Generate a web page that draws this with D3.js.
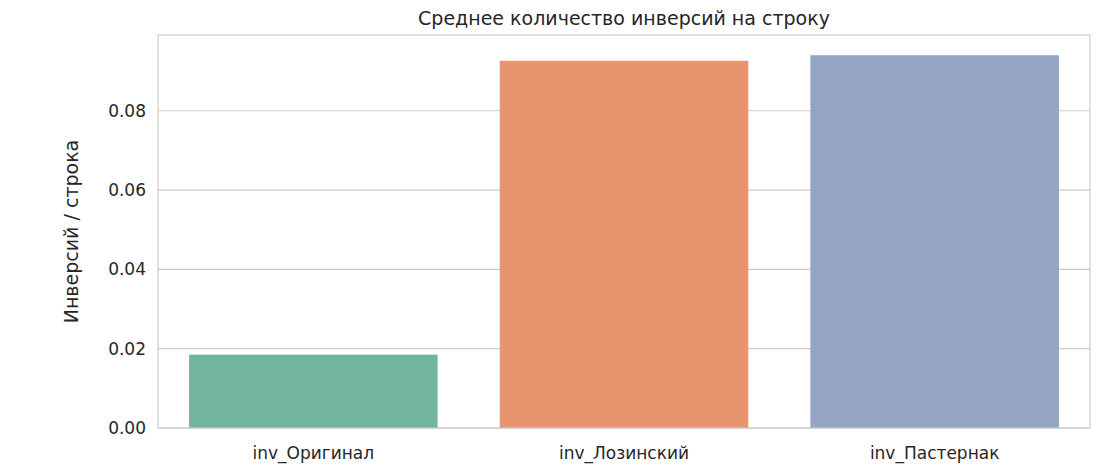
<!DOCTYPE html>
<html><head><meta charset="utf-8">
<script src="https://cdn.jsdelivr.net/npm/d3@7"></script>
<style>body{margin:0;background:#fff}text{font-family:"DejaVu Sans",sans-serif;fill:#262626}</style>
</head><body><svg id="c" width="1103" height="471"></svg>
<script>
const categories=["inv_Оригинал","inv_Лозинский","inv_Пастернак"];
const values=[0.0185,0.0926,0.0940];
const colors=["#73b4a0","#e8956f","#94a4c4"];
const yTicks=[0,0.02,0.04,0.06,0.08];
const svg=d3.select("#c");
const L=158,R=1090,T=35,B=428;
const y=d3.scaleLinear().domain([0,0.0991]).range([B,T]);
const x=d3.scaleBand().domain(categories).range([L,R]).paddingInner(0.2).paddingOuter(0.1);
svg.append("g").selectAll("line").data(yTicks).join("line")
 .attr("x1",L).attr("x2",R).attr("y1",d=>y(d)).attr("y2",d=>y(d)).attr("stroke","#cccccc").attr("stroke-width",1.2);
svg.append("g").selectAll("rect").data(values).join("rect")
 .attr("x",(d,i)=>x(categories[i])).attr("width",x.bandwidth())
 .attr("y",d=>y(d)).attr("height",d=>B-y(d)).attr("fill",(d,i)=>colors[i]);
svg.append("rect").attr("x",L).attr("y",T).attr("width",R-L).attr("height",B-T).attr("fill","none").attr("stroke","#cccccc").attr("stroke-width",1.2);
svg.append("g").selectAll("text").data(yTicks).join("text")
 .attr("x",L-12).attr("y",d=>y(d)).attr("dy","0.35em").attr("text-anchor","end").attr("font-size",17).text(d=>d.toFixed(2));
svg.append("g").selectAll("text").data(categories).join("text")
 .attr("x",d=>x(d)+x.bandwidth()/2).attr("y",B+31).attr("text-anchor","middle").attr("font-size",17).text(d=>d);
svg.append("text").attr("transform",`translate(78,${(T+B)/2}) rotate(-90)`).attr("text-anchor","middle").attr("font-size",19).text("Инверсий / строка");
svg.append("text").attr("x",(L+R)/2).attr("y",25).attr("text-anchor","middle").attr("font-size",19).text("Среднее количество инверсий на строку");
</script></body></html>
